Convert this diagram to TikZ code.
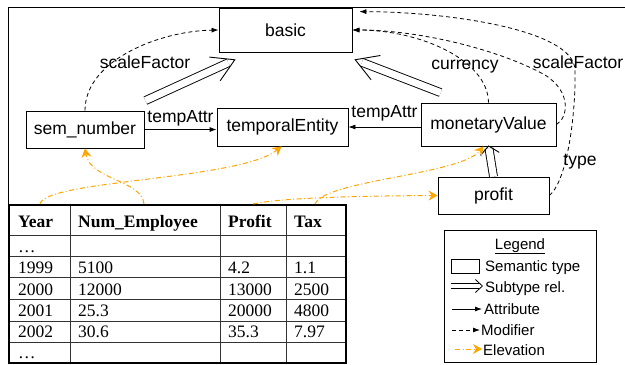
\documentclass[tikz,border=0pt]{standalone}
\usepackage{fontspec}
\setmainfont{Liberation Sans}
\newfontfamily\tabfont{Liberation Serif}
\usetikzlibrary{arrows.meta,calc}
\definecolor{elev}{RGB}{255,165,0}
\begin{document}
\begin{tikzpicture}[x=1bp,y=-1bp,
 semtype/.style={draw, line width=0.8bp, inner sep=0pt, font=\fontsize{17.5bp}{20bp}\selectfont},
 lbl/.style={font=\fontsize{17.5bp}{20bp}\selectfont, inner sep=0pt},
 legtxt/.style={font=\fontsize{15bp}{18bp}\selectfont, inner sep=0pt, anchor=base west},
 tabtxt/.style={font=\tabfont\fontsize{17.5bp}{20bp}\selectfont, inner sep=0pt, anchor=base west},
 tabhead/.style={font=\tabfont\bfseries\fontsize{17.5bp}{20bp}\selectfont, inner sep=0pt, anchor=base west},
 attr/.style={line width=0.8bp, -{Latex[length=7bp,width=5bp]}},
 modif/.style={line width=0.8bp, dash pattern=on 4bp off 3bp, -{Latex[length=7bp,width=5bp]}},
 subtshaft/.style={double, double distance=7bp, line width=0.9bp, shorten >=8bp},
 subthead/.style={white, line width=1bp, -{Straight Barb[color=black, length=22bp, width=26bp, line width=0.9bp]}},
 subtshaftsmall/.style={double, double distance=7bp, line width=0.9bp, shorten >=3bp},
 subtheadsmall/.style={white, line width=1bp, -{Straight Barb[color=black, length=8bp, width=19bp, line width=0.9bp]}},
 elevation/.style={elev, line width=1bp, dash pattern=on 5bp off 2.5bp on 1bp off 2.5bp, -{Stealth[length=9bp,width=10bp,inset=3bp]}},
]
\useasboundingbox (0,0) rectangle (625,364);
% frame
\draw[line width=1bp] (8,205) -- (8,7) -- (625,7);
% semantic types
\node[semtype, minimum width=133bp, minimum height=44bp] (basic) at (285.5,30) {basic};
\node[semtype, minimum width=118bp, minimum height=37bp] (semnum) at (85,129.5) {sem\_number};
\node[semtype, minimum width=131bp, minimum height=38bp] (temp) at (282.5,127) {temporalEntity};
\node[semtype, minimum width=135bp, minimum height=43bp] (money) at (488.5,124.5) {monetaryValue};
\node[semtype, minimum width=111bp, minimum height=37bp] (profit) at (493.5,195.5) {profit};
% subtype
\coordinate (s1a) at ($(semnum.north east)+(1,-10)$);
\coordinate (s1b) at ($(basic.south west)+(17,7)$);
\coordinate (s2a) at ($(money.north west)+(20,-10)$);
\coordinate (s2b) at ($(basic.south east)+(2,7)$);
\coordinate (s3a) at (profit.north);
\coordinate (s3b) at ([yshift=1bp]money.south);
\draw[subtshaft] (s1a) -- (s1b);
\draw[subthead] (s1a) -- (s1b);
\draw[subtshaft] (s2a) -- (s2b);
\draw[subthead] (s2a) -- (s2b);
\draw[subtshaftsmall] (s3a) -- (s3b);
\draw[subtheadsmall] (s3a) -- (s3b);
% attributes
\draw[attr] (semnum.east) -- (temp.west |- semnum.east) node[lbl, midway, above=3bp] {tempAttr};
\draw[attr] (money.west |- 0,127) -- (temp.east |- 0,127) node[lbl, midway, above=5bp] {tempAttr};
% modifiers
\draw[modif] (semnum.north) .. controls (85,60) and (160,31) .. (basic.west);
\node[lbl] (sfa) at (145,62) {scaleFactor};
\draw[modif] (money.north) .. controls (488,60) and (420,30) .. (basic.east);
\node[lbl] (cur) at (465,67) {currency};
\draw[modif] (money.east) .. controls (568,118) and (572,92) .. (545,75) .. controls (500,50) and (420,30) .. (basic.east);
\node[lbl] (sfb) at (578,62) {scaleFactor};
\draw[modif] (profit.east) .. controls (568,180) and (576,110) .. (575,70) .. controls (574,30) and (450,12) .. ([xshift=7bp,yshift=-4bp]basic.north east);
\node[lbl] (typ) at (580,162) {type};
% table
\draw[line width=0.8bp, black!80] (70,205) -- (70,363) (220,205) -- (220,363) (286,205) -- (286,363);
\foreach \y in {235,256,277,299,321,342} \draw[line width=0.8bp, black!80] (9,\y) -- (346,\y);
\draw[line width=2.5bp] (9,205) rectangle (346,363);
\coordinate (cYear) at (40,204);
\coordinate (cNum) at (144,204);
\coordinate (cProfit) at (253,204);
\coordinate (cTax) at (315,204);
\node[tabhead] at (18,227) {Year};
\node[tabhead] at (78,227) {Num\_Employee};
\node[tabhead] at (228,227) {Profit};
\node[tabhead] at (294,227) {Tax};
\node[tabtxt] at (18,252) {\dots};
\node[tabtxt] at (18,273) {1999};
\node[tabtxt] at (78,273) {5100};
\node[tabtxt] at (228,273) {4.2};
\node[tabtxt] at (294,273) {1.1};
\node[tabtxt] at (18,295) {2000};
\node[tabtxt] at (78,295) {12000};
\node[tabtxt] at (228,295) {13000};
\node[tabtxt] at (294,295) {2500};
\node[tabtxt] at (18,316) {2001};
\node[tabtxt] at (78,316) {25.3};
\node[tabtxt] at (228,316) {20000};
\node[tabtxt] at (294,316) {4800};
\node[tabtxt] at (18,337) {2002};
\node[tabtxt] at (78,337) {30.6};
\node[tabtxt] at (228,337) {35.3};
\node[tabtxt] at (294,337) {7.97};
\node[tabtxt] at (18,358) {\dots};
% elevation
\draw[elevation] (cYear) .. controls (45,180) and (240,180) .. ([xshift=-1bp]temp.south);
\draw[elevation] (cNum) .. controls (142,180) and (90,180) .. (semnum.south);
\draw[elevation] (cProfit) .. controls (280,198) and (350,196) .. (profit.west);
\draw[elevation] (cTax) .. controls (325,180) and (460,175) .. ([xshift=-5bp]money.south);
% legend
\draw[line width=1bp] (444,230) rectangle (596,362);
\node[legtxt, anchor=base] at (520,249) {\underline{Legend}};
\draw[line width=0.9bp] (451,259) rectangle (479,273);
\node[legtxt] at (485,271) {Semantic type};
\coordinate (la) at (451,286);
\coordinate (lb) at (483,286);
\draw[double, double distance=4bp, line width=0.8bp, shorten >=4bp] (la) -- (lb);
\draw[white, line width=0.8bp, -{Straight Barb[color=black, length=7bp, width=13bp, line width=0.8bp]}] (la) -- (lb);
\node[legtxt] at (485,292) {Subtype rel.};
\draw[attr] (452,309) -- (482,309);
\node[legtxt] at (484,314) {Attribute};
\draw[modif] (452,330) -- (480,330);
\node[legtxt] at (481,335) {Modifier};
\draw[elevation] (455,349) -- (482,349);
\node[legtxt] at (483,355) {Elevation};
\end{tikzpicture}
\end{document}
